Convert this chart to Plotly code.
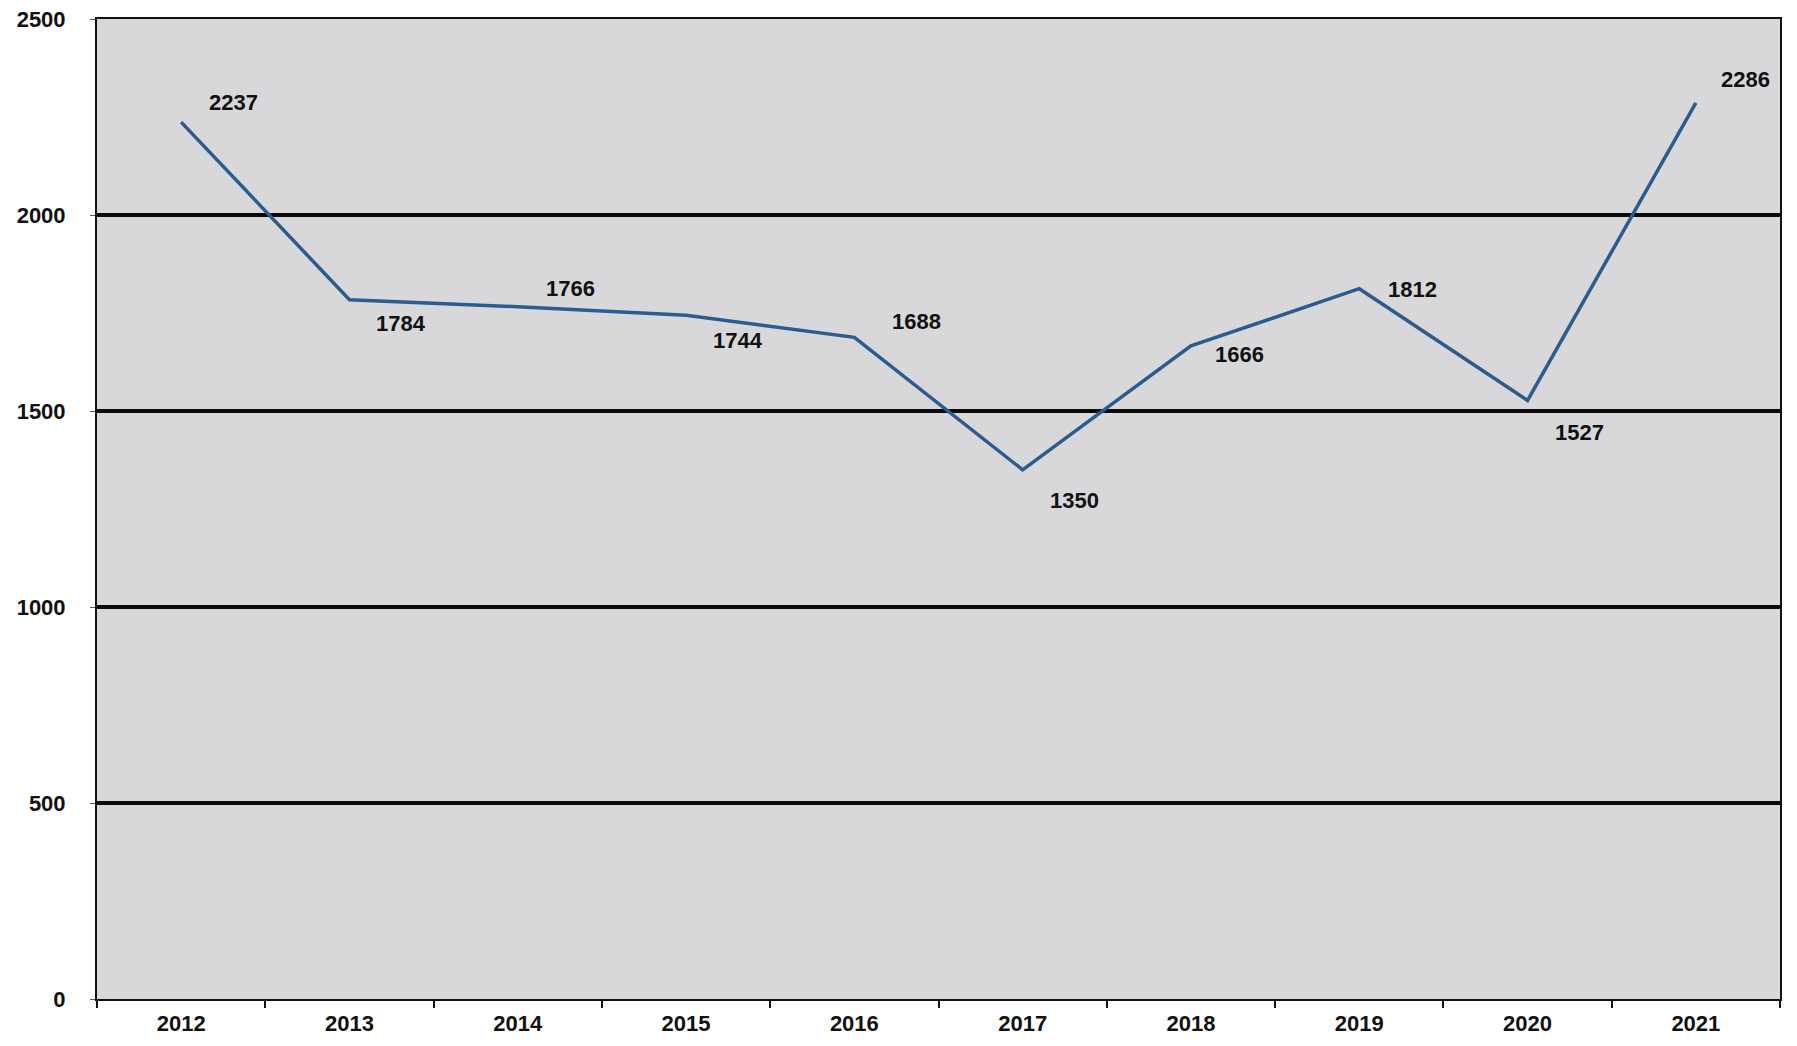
import plotly.graph_objects as go

years = ["2012", "2013", "2014", "2015", "2016", "2017", "2018", "2019", "2020", "2021"]
values = [2237, 1784, 1766, 1744, 1688, 1350, 1666, 1812, 1527, 2286]
y_ticks = [0, 500, 1000, 1500, 2000, 2500]

# label offsets in pixels (style only)
label_dx = [52, 52, 53, 52, 62, 52, 49, 53, 52, 50]
label_dy = [20, -24, 18, -25, 16, -31, -9, -1, -32, 23]

FONT = "Liberation Sans, Arial, sans-serif"

fig = go.Figure()
fig.add_trace(go.Scatter(
    x=years, y=values, mode="lines",
    line=dict(color="#2a5c8e", width=3.5),
    hoverinfo="x+y", showlegend=False,
))

for i, (v, dx, dy) in enumerate(zip(values, label_dx, label_dy)):
    fig.add_annotation(x=i, y=v, xref="x", yref="y", text="<b>%d</b>" % v,
                       showarrow=False, xshift=dx, yshift=dy,
                       font=dict(family=FONT, size=22, color="#111111"))

fig.update_layout(
    width=1781, height=1030,
    margin=dict(l=89, r=9, t=11, b=39),
    paper_bgcolor="white",
    plot_bgcolor="#d8d8da",
    xaxis=dict(
        type="category", range=[-0.5, 9.5], automargin=False,
        showgrid=False, zeroline=False,
        showline=True, linecolor="#111111", linewidth=2, mirror=True,
        ticks="outside", tickson="boundaries", ticklen=7, tickcolor="#111111", tickwidth=1.5,
        ticklabelstandoff=4,
        tickfont=dict(family=FONT, size=22, color="#111111", weight="bold"),
    ),
    yaxis=dict(
        range=[0, 2500], tickvals=y_ticks, automargin=False,
        ticklabeloverflow="allow",
        showgrid=True, gridcolor="#0a0a0a", gridwidth=3.5,
        zeroline=False,
        showline=True, linecolor="#111111", linewidth=2, mirror=True,
        ticks="outside", ticklen=5, tickcolor="#555555", tickwidth=1,
        ticklabelstandoff=20,
        tickfont=dict(family=FONT, size=22, color="#111111", weight="bold"),
    ),
)

fig.write_html("out.html")
